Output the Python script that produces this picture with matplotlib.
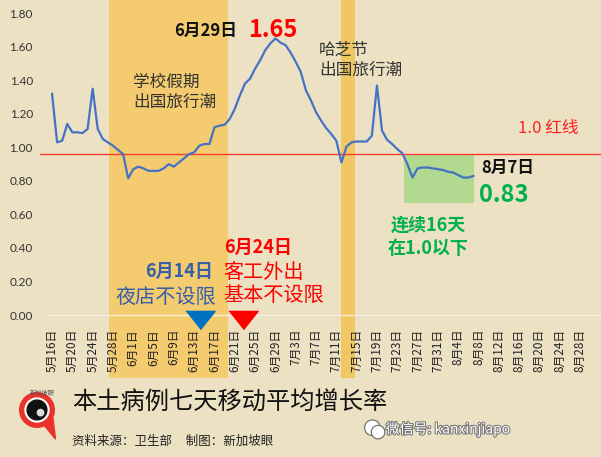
import numpy as np
import matplotlib
matplotlib.use('Agg')
import matplotlib.pyplot as plt
import matplotlib.patheffects as pe
from matplotlib.patches import Rectangle, Circle, Polygon

plt.rcParams['font.family'] = ['Noto Sans CJK SC', 'DejaVu Sans']

# 7-day moving average growth rate, one value per day from 5/16 to 8/7
ratio = [1.32, 1.03, 1.04, 1.14, 1.09, 1.09, 1.085, 1.11, 1.35, 1.11,
         1.05, 1.03, 1.01, 0.985, 0.96, 0.815, 0.87, 0.885, 0.875, 0.86,
         0.86, 0.86, 0.875, 0.90, 0.885, 0.91, 0.935, 0.96, 0.97, 1.01,
         1.02, 1.02, 1.12, 1.13, 1.135, 1.17, 1.23, 1.31, 1.38, 1.41,
         1.47, 1.52, 1.58, 1.62, 1.65, 1.625, 1.61, 1.565, 1.51, 1.45,
         1.34, 1.28, 1.21, 1.16, 1.115, 1.08, 1.04, 0.91, 1.005, 1.03,
         1.035, 1.035, 1.035, 1.07, 1.37, 1.10, 1.045, 1.02, 0.99, 0.965,
         0.90, 0.82, 0.875, 0.88, 0.88, 0.875, 0.87, 0.865, 0.855, 0.85,
         0.835, 0.82, 0.82, 0.83]

tick_pos = list(range(0, 105, 4))
tick_labels = ['5月16日', '5月20日', '5月24日', '5月28日', '6月1日', '6月5日',
               '6月9日', '6月13日', '6月17日', '6月21日', '6月25日', '6月29日',
               '7月3日', '7月7日', '7月11日', '7月15日', '7月19日', '7月23日',
               '7月27日', '7月31日', '8月4日', '8月8日', '8月12日', '8月16日',
               '8月20日', '8月24日', '8月28日']
y_ticks = [0, 0.2, 0.4, 0.6, 0.8, 1.0, 1.2, 1.4, 1.6, 1.8]

W, H = 601, 457
fig = plt.figure(figsize=(W / 100, H / 100), dpi=100)
fig.patch.set_facecolor('#EDE1C3')

ax = fig.add_axes([49.5 / W, (H - 315) / H, 548.3 / W, 301.7 / H])
ax.set_facecolor('none')
ax.set_xlim(-0.5, 107.5)
ax.set_ylim(0, 1.8)
for s in ax.spines.values():
    s.set_visible(False)

# shaded periods (extend over the tick labels up to the top edge)
ax.axvspan(11.3, 34.7, ymin=-0.209, ymax=1.05, color='#F5C965', alpha=0.9,
           lw=0, clip_on=False, zorder=0)
ax.axvspan(56.9, 59.7, ymin=-0.209, ymax=1.05, color='#F2C55A', alpha=0.9,
           lw=0, clip_on=False, zorder=0)
ax.add_patch(Rectangle((69.3, 0.666), 13.9, 0.294, color='#A8D888',
                       alpha=0.85, lw=0, zorder=1))

ax.axhline(0, xmin=-0.005, xmax=1.01, color='#F6EFE0', lw=0.9, clip_on=False,
           zorder=1)
ax.axhline(0.96, xmin=-0.017, xmax=1.01, color='#FF3B2F', lw=1.0,
           clip_on=False, zorder=2)

ax.plot(range(len(ratio)), ratio, color='#4472C4', lw=1.6, zorder=3)

ax.set_yticks(y_ticks)
ax.set_yticklabels(['%.2f' % v for v in y_ticks], family='Lato')
ax.tick_params(axis='y', length=0, pad=12, labelsize=8.5, labelcolor='#333333')
ax.set_xticks(tick_pos)
ax.set_xticklabels(tick_labels, rotation=90, fontsize=8.5)
ax.tick_params(axis='x', length=0, pad=10, labelcolor='#222222')

# event markers
tri = [(-1.6, 1), (1.6, 1), (0, -1)]
ax.plot([29.2], [-0.027], marker=tri, markersize=21, color='#0070C0',
        clip_on=False, zorder=4)
ax.plot([37.7], [-0.03], marker=tri, markersize=21, color='#FF0000',
        clip_on=False, zorder=4)


def put(x, y, s, **kw):
    fig.text(x / W, 1 - y / H, s, **kw)


put(206, 31, '6月29日', fontsize=12, fontweight='bold', color='#111111',
    ha='center', va='center')
put(273, 30, '1.65', fontsize=17, fontweight='bold', color='#FF0000',
    ha='center', va='center')
put(133, 92, '学校假期\n出国旅行潮', fontsize=12, color='#333333',
    ha='left', va='center', linespacing=1.25)
put(319, 60, '哈芝节\n出国旅行潮', fontsize=12, color='#333333',
    ha='left', va='center', linespacing=1.25)
put(548, 128, '1.0 红线', fontsize=12, color='#FF2020', ha='center',
    va='center')
put(508, 168, '8月7日', fontsize=12, fontweight='bold', color='#111111',
    ha='center', va='center')
put(504, 195, '0.83', fontsize=17, fontweight='bold', color='#00B050',
    ha='center', va='center')
put(428, 237, '连续16天\n在1.0以下', fontsize=13, fontweight='bold',
    color='#00B050', ha='center', va='center', linespacing=1.3)
put(179, 271, '6月14日', fontsize=13, fontweight='bold', color='#3560A8',
    ha='center', va='center')
put(166, 297, '夜店不设限', fontsize=14.5, color='#3560A8', ha='center',
    va='center')
put(258, 247, '6月24日', fontsize=13, fontweight='bold', color='#FF0000',
    ha='center', va='center')
put(223, 284, '客工外出\n基本不设限', fontsize=14.5, color='#FF0000',
    ha='left', va='center', linespacing=1.15)

# title block
put(72, 403, '本土病例七天移动平均增长率', fontsize=17.5, color='#111111',
    ha='left', va='center')
put(72, 441, '资料来源：卫生部     制图：新加坡眼', fontsize=9, color='#222222',
    ha='left', va='center')

# logo
lax = fig.add_axes([7 / W, 1 - 440 / H, 60 / W, 60 / H])
lax.set_xlim(-1.7, 1.7)
lax.set_ylim(-1.7, 1.7)
lax.set_aspect('equal')
lax.axis('off')
lax.add_patch(Polygon([(0.35, -0.8), (1.05, -1.65), (0.9, -0.45)],
                      color='#E8322B'))
lax.add_patch(Circle((0, 0), 0.98, color='#E8322B'))
lax.add_patch(Circle((0, 0), 0.68, color='white'))
lax.add_patch(Circle((0, 0), 0.56, color='#111111'))
lax.add_patch(Circle((0.2, -0.15), 0.18, color='#DDDDDD'))
put(42, 393, '新加坡眼', fontsize=4.5, color='#555555', ha='center',
    va='center')

# watermark
wx = fig.add_axes([362 / W, 1 - 442 / H, 26 / W, 26 / H])
wx.set_xlim(0, 1)
wx.set_ylim(0, 1)
wx.set_aspect('equal')
wx.axis('off')
for c, r in [((0.4, 0.55), 0.3), ((0.62, 0.38), 0.26)]:
    wx.add_patch(Circle(c, r, facecolor='white', edgecolor='#666666', lw=0.8))
put(448, 429, '微信号: kanxinjiapo', fontsize=10, color='white',
    ha='center', va='center',
    path_effects=[pe.withStroke(linewidth=1.5, foreground='#777777')])

fig.savefig('out.png', dpi=100, facecolor=fig.get_facecolor())
